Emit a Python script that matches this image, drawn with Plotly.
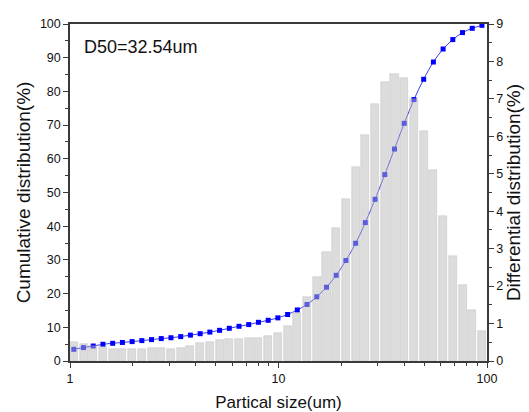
import numpy as np
import plotly.graph_objects as go

# Particle size bins (um)
sizes = [1.043, 1.161, 1.292, 1.439, 1.602, 1.784, 1.986, 2.211, 2.461, 2.740,
         3.050, 3.396, 3.780, 4.209, 4.685, 5.217, 5.808, 6.466, 7.198, 8.014,
         8.923, 9.93, 11.06, 12.31, 13.70, 15.26, 16.99, 18.91, 21.05, 23.44,
         26.09, 29.05, 32.34, 36.00, 40.09, 44.63, 49.69, 55.32, 61.58, 68.55,
         76.32, 84.96, 94.58]

# Differential distribution (%)
differential = [0.50, 0.45, 0.40, 0.37, 0.33, 0.31, 0.31, 0.33, 0.34, 0.34,
                0.33, 0.36, 0.41, 0.47, 0.52, 0.56, 0.58, 0.59, 0.61, 0.62,
                0.66, 0.76, 0.93, 1.29, 1.72, 2.25, 2.90, 3.56, 4.32, 5.19,
                6.03, 6.86, 7.44, 7.67, 7.55, 7.01, 6.15, 5.09, 3.86, 2.80,
                2.03, 1.35, 0.80]

# Cumulative distribution (%)
cumulative = [3.47, 3.98, 4.45, 4.96, 5.25, 5.50, 5.76, 6.05, 6.35, 6.65,
              6.90, 7.24, 7.68, 8.10, 8.58, 9.10, 9.70, 10.30, 10.80, 11.48,
              12.08, 12.80, 13.80, 15.15, 16.78, 19.05, 21.90, 25.43, 29.83, 34.93,
              41.07, 47.98, 55.31, 62.90, 70.53, 77.57, 83.59, 88.72, 92.58, 95.37,
              97.45, 98.72, 99.61]

annotation_text = "D50=32.54um"

axis_col = "#3a3a3a"
font_family = "Liberation Sans, Arial, sans-serif"

fig = go.Figure()

fig.add_trace(go.Scatter(
    x=sizes, y=cumulative, mode="lines+markers",
    line=dict(color="#3b3bf0", width=1, shape="spline"),
    marker=dict(symbol="square", size=5, color="#0000ff"),
    xaxis="x", yaxis="y", showlegend=False,
))

fig.add_trace(go.Bar(
    x=np.log10(sizes), y=differential, width=0.0385,
    marker=dict(color="rgba(185,185,185,0.5)",
                line=dict(color="rgba(170,170,170,0.5)", width=0.6)),
    xaxis="x2", yaxis="y2", showlegend=False,
))

fig.update_layout(
    width=529, height=412,
    margin=dict(l=70, r=42, t=24, b=51, autoexpand=False),
    paper_bgcolor="white", plot_bgcolor="white",
    font=dict(family=font_family, size=12, color="#111"),
    xaxis=dict(
        type="log", range=[0, 2], dtick=1, automargin=False,
        showline=True, linecolor=axis_col, linewidth=1.5, mirror=True,
        ticks="outside", ticklen=5, tickwidth=1.2, tickcolor=axis_col,
        minor=dict(ticks="outside", ticklen=3, tickwidth=1, tickcolor=axis_col, dtick="D1"),
        showgrid=False, zeroline=False,
        title=dict(text="Partical size(um)", font=dict(size=17), standoff=12),
        tickfont=dict(size=12.5),
    ),
    yaxis=dict(
        range=[0, 100], dtick=10, automargin=False,
        showline=True, linecolor=axis_col, linewidth=1.5,
        ticks="outside", ticklen=5, tickwidth=1.2, tickcolor=axis_col,
        minor=dict(ticks="outside", ticklen=3, tickwidth=1, tickcolor=axis_col, dtick=5),
        showgrid=False, zeroline=False,
        title=dict(text="Cumulative distribution(%)", font=dict(size=19), standoff=4),
        tickfont=dict(size=12.5),
    ),
    xaxis2=dict(
        overlaying="x", range=[0, 2], visible=False, showgrid=False,
    ),
    yaxis2=dict(
        overlaying="y", side="right", anchor="x2", range=[0, 9], dtick=1, automargin=False,
        showline=True, linecolor=axis_col, linewidth=1.5,
        ticks="outside", ticklen=5, tickwidth=1.2, tickcolor=axis_col,
        minor=dict(ticks="outside", ticklen=3, tickwidth=1, tickcolor=axis_col, dtick=0.5),
        showgrid=False, zeroline=False,
        title=dict(text="Differential distribution(%)", font=dict(size=19), standoff=2),
        tickfont=dict(size=12.5),
    ),
    bargap=0,
    annotations=[dict(
        text=annotation_text, xref="paper", yref="paper", x=0.028, y=0.932,
        xanchor="left", yanchor="middle", showarrow=False,
        font=dict(size=18, color="#111"),
    )],
)

fig.write_html("out.html", config={"displayModeBar": False},
               post_script="document.body.style.margin='0';")
